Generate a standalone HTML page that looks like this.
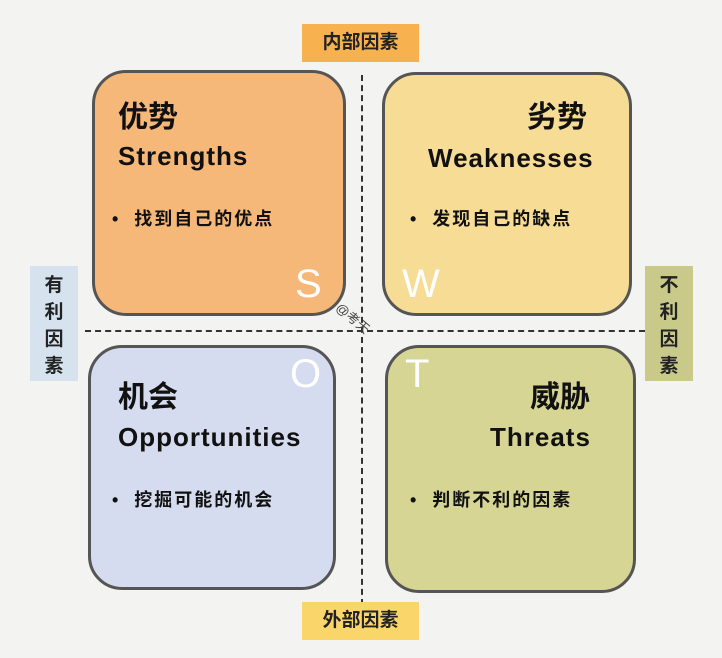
<!DOCTYPE html>
<html><head><meta charset="utf-8"><style>
body{margin:0;width:722px;height:658px;background:#f3f3f2;position:relative;overflow:hidden;font-family:"Liberation Sans","Noto Sans CJK SC",sans-serif;color:#111}
.box{position:absolute;border:3px solid #555;border-radius:34px;box-sizing:border-box}
.t1{position:absolute;font-size:30px;font-weight:bold}
.t2{position:absolute;font-size:26px;letter-spacing:1px;font-weight:bold}
.b{position:absolute;font-size:18px;letter-spacing:2px;font-weight:bold}
.L{position:absolute;color:#fff;font-size:40px}
.lab{position:absolute;font-size:19px;text-align:center;color:#222;font-weight:bold}
</style></head><body>
<div style="position:absolute;left:361px;top:75px;height:530px;border-left:2px dashed #333"></div>
<div style="position:absolute;left:85px;top:330px;width:560px;border-top:2px dashed #333"></div>

<div class="lab" style="left:302px;top:24px;width:117px;height:38px;line-height:38px;background:#f7b14f">内部因素</div>
<div class="lab" style="left:302px;top:602px;width:117px;height:38px;line-height:38px;background:#f9d56a">外部因素</div>
<div class="lab" style="left:30px;top:266px;width:48px;height:115px;background:#d6e3ef;line-height:27px;padding-top:6px;box-sizing:border-box">有<br>利<br>因<br>素</div>
<div class="lab" style="left:645px;top:266px;width:48px;height:115px;background:#c9c98a;line-height:27px;padding-top:6px;box-sizing:border-box">不<br>利<br>因<br>素</div>

<div class="box" style="left:92px;top:70px;width:254px;height:246px;background:#f6b878"></div>
<div class="box" style="left:382px;top:72px;width:250px;height:244px;background:#f6dc94"></div>
<div class="box" style="left:88px;top:345px;width:248px;height:245px;background:#d6dcef"></div>
<div class="box" style="left:385px;top:345px;width:251px;height:248px;background:#d6d594"></div>

<div class="t1" style="left:118px;top:92px">优势</div>
<div class="t2" style="left:118px;top:141px">Strengths</div>
<div class="b" style="left:112px;top:205px">•&nbsp;&nbsp;找到自己的优点</div>
<div class="L" style="left:295px;top:262px">S</div>

<div class="t1" style="left:527px;top:92px">劣势</div>
<div class="t2" style="left:428px;top:143px">Weaknesses</div>
<div class="b" style="left:410px;top:205px">•&nbsp;&nbsp;发现自己的缺点</div>
<div class="L" style="left:402px;top:262px">W</div>

<div class="t1" style="left:118px;top:372px">机会</div>
<div class="t2" style="left:118px;top:422px">Opportunities</div>
<div class="b" style="left:112px;top:486px">•&nbsp;&nbsp;挖掘可能的机会</div>
<div class="L" style="left:290px;top:352px">O</div>

<div class="t1" style="left:530px;top:372px">威胁</div>
<div class="t2" style="left:490px;top:422px">Threats</div>
<div class="b" style="left:410px;top:486px">•&nbsp;&nbsp;判断不利的因素</div>
<div class="L" style="left:405px;top:352px">T</div>

<div style="position:absolute;left:334px;top:308px;font-size:13px;color:#444;transform:rotate(40deg)">@考天</div>
</body></html>
